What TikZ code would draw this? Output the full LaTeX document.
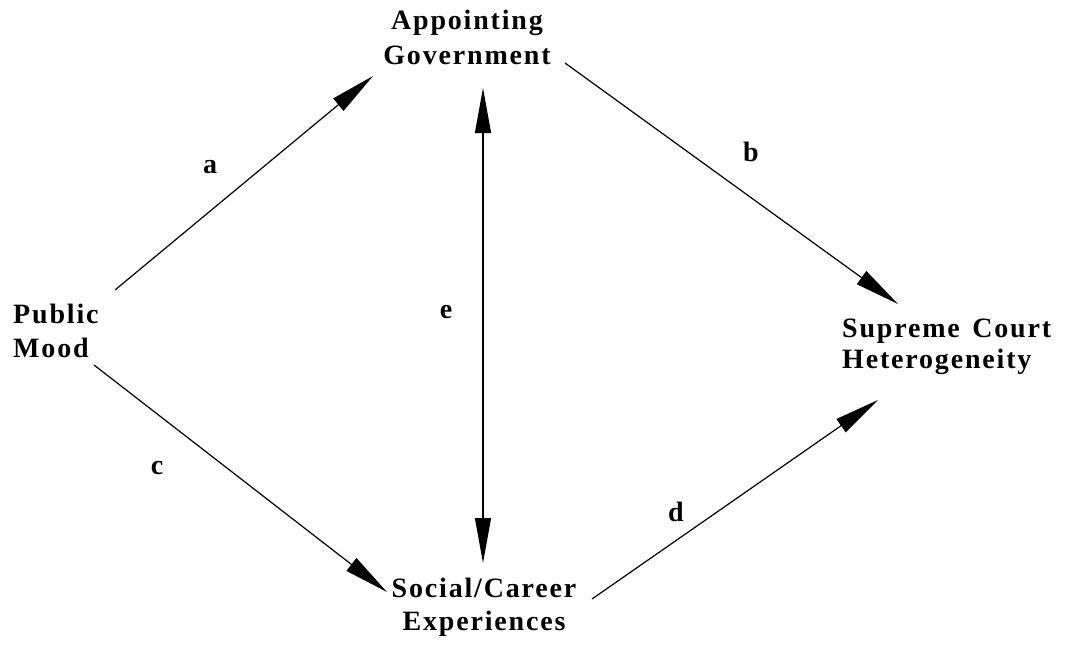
\documentclass[tikz,border=0pt]{standalone}
\usepackage{fontspec}
\setmainfont{Liberation Serif}[LetterSpace=6.5,WordSpace=1.4]
\usetikzlibrary{arrows.meta}
\begin{document}
\begin{tikzpicture}[x=1pt,y=-1pt,
  lbl/.style={inner sep=0pt,font=\fontsize{28}{33}\selectfont\bfseries},
  conn/.style={line width=1.2pt,-{Triangle[length=45pt,width=16pt]}},
  dconn/.style={line width=1.2pt,{Triangle[length=45pt,width=16pt]}-{Triangle[length=45pt,width=16pt]}}]
\useasboundingbox (0,0) rectangle (1069,645);
% main nodes
\node[lbl,anchor=base] (ag) at (467,30) {\begin{tabular}[t]{@{}c@{}}Appointing\\[2pt]Government\end{tabular}};
\node[lbl,anchor=base west] (pm) at (13,323) {\begin{tabular}[t]{@{}l@{}}Public\\[1pt]Mood\end{tabular}};
\node[lbl,anchor=base] (sc) at (484,597) {\begin{tabular}[t]{@{}c@{}}Social/Career\\Experiences\end{tabular}};
\node[lbl,anchor=base west] (sh) at (842,337) {\begin{tabular}[t]{@{}l@{}}Supreme Court\\[-2pt]Heterogeneity\end{tabular}};
% edge labels
\node[lbl] (la) at (210,167) {a};
\node[lbl] (lb) at (751,152) {b};
\node[lbl] (lc) at (157,468) {c};
\node[lbl] (ld) at (676,512) {d};
\node[lbl] (le) at (446,312) {e};
% connector end points
\coordinate (a1) at (115,290);
\coordinate (a2) at (373,76);
\coordinate (b1) at (565,63);
\coordinate (b2) at (898,304);
\coordinate (c1) at (94,365);
\coordinate (c2) at (387,592);
\coordinate (d1) at (592,599);
\coordinate (d2) at (878,400);
\coordinate (e1) at (483,88);
\coordinate (e2) at (483,563);
\draw[conn] (a1) -- (a2);
\draw[conn] (b1) -- (b2);
\draw[conn] (c1) -- (c2);
\draw[conn] (d1) -- (d2);
\draw[dconn] (e1) -- (e2);
\end{tikzpicture}
\end{document}
